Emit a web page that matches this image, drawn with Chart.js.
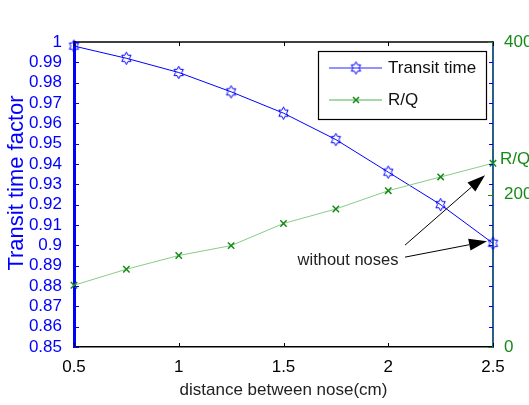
<!DOCTYPE html>
<html><head><meta charset="utf-8">
<script src="https://cdn.jsdelivr.net/npm/chart.js@4.4.1/dist/chart.umd.min.js"></script>
<style>html,body{margin:0;padding:0;background:#fff;overflow:hidden}#wrap{width:529px;height:405px;position:relative}</style>
</head><body><div id="wrap"><canvas id="c" width="529" height="405"></canvas></div>
<script>
// ---- data ----
const distances = [0.5, 0.75, 1, 1.25, 1.5, 1.75, 2, 2.25, 2.5];
const transitTime = [0.998, 0.992, 0.985, 0.9755, 0.965, 0.952, 0.936, 0.920, 0.901];
const rOverQ = [81, 102, 120, 133, 162, 181, 205, 223, 241];
const xTicks = [0.5, 1, 1.5, 2, 2.5];
const leftTicks = [0.85, 0.86, 0.87, 0.88, 0.89, 0.9, 0.91, 0.92, 0.93, 0.94, 0.95, 0.96, 0.97, 0.98, 0.99, 1];
const rightTicks = [0, 200, 400];
const seriesNames = ['Transit time', 'R/Q'];
const xTitle = 'distance between nose(cm)';
const yTitle = 'Transit time factor';
const noteText = 'without noses';
const noteAnchor = [1.808, 0.8928];       // data coords (x, left axis) of annotation text
const arrowStarts = [[2.08, 0.8942], [2.08, 0.9001]]; // data coords on left axis
const rqLabelValue = 246;                 // R/Q side label on right axis

const FONT = "'Liberation Sans', Arial, sans-serif";
const BLUE = '#0000ff', GREEN = '#168a16', LGREEN = '#88cc88', RAX = '#2e5f8a';

function hexagram(color) {
  const c = document.createElement('canvas'); c.width = 15; c.height = 15;
  const g = c.getContext('2d'); g.strokeStyle = color; g.lineWidth = 1;
  const R = 6.3, r = R / Math.sqrt(3);
  g.beginPath();
  for (let k = 0; k < 12; k++) {
    const a = (-90 + k * 30) * Math.PI / 180, rr = k % 2 ? r : R;
    const px = 7.5 + rr * Math.cos(a) * 0.85, py = 7.5 + rr * Math.sin(a);
    k ? g.lineTo(px, py) : g.moveTo(px, py);
  }
  g.closePath(); g.stroke();
  return c;
}
const star = hexagram(BLUE);

function arrow(ctx, x1, y1, x2, y2) {
  const ang = Math.atan2(y2 - y1, x2 - x1), L = 18, W = 6;
  const bx = x2 - L * Math.cos(ang), by = y2 - L * Math.sin(ang);
  ctx.strokeStyle = '#000'; ctx.fillStyle = '#000'; ctx.lineWidth = 1;
  ctx.beginPath(); ctx.moveTo(x1, y1); ctx.lineTo(bx, by); ctx.stroke();
  ctx.beginPath(); ctx.moveTo(x2, y2);
  ctx.lineTo(bx + W * Math.sin(ang), by - W * Math.cos(ang));
  ctx.lineTo(bx - W * Math.sin(ang), by + W * Math.cos(ang));
  ctx.closePath(); ctx.fill();
}

const deco = {
  id: 'deco',
  afterDraw(chart) {
    const ctx = chart.ctx, ca = chart.chartArea;
    const xs = chart.scales.x, ys = chart.scales.y, y1 = chart.scales.y1;
    ctx.save();
    // top border
    ctx.strokeStyle = '#000'; ctx.lineWidth = 1.5;
    ctx.beginPath(); ctx.moveTo(ca.left, ca.top); ctx.lineTo(ca.right, ca.top); ctx.stroke();
    // inward ticks
    ctx.lineWidth = 1;
    ctx.strokeStyle = BLUE;
    leftTicks.forEach(v => {
      const y = Math.round(ys.getPixelForValue(v)) + 0.5;
      ctx.beginPath(); ctx.moveTo(ca.left, y); ctx.lineTo(ca.left + 5, y);
      ctx.moveTo(ca.right, y); ctx.lineTo(ca.right - 4, y); ctx.stroke();
    });
    ctx.strokeStyle = GREEN;
    rightTicks.forEach(v => {
      const y = Math.round(y1.getPixelForValue(v)) + 0.5;
      ctx.beginPath(); ctx.moveTo(ca.right, y); ctx.lineTo(ca.right - 5, y); ctx.stroke();
    });
    ctx.strokeStyle = '#000';
    xTicks.forEach(v => {
      const x = Math.round(xs.getPixelForValue(v)) + 0.5;
      ctx.beginPath(); ctx.moveTo(x, ca.bottom); ctx.lineTo(x, ca.bottom - 4);
      ctx.moveTo(x, ca.top); ctx.lineTo(x, ca.top + 4); ctx.stroke();
    });
    // left title
    ctx.save();
    ctx.translate(17, 183); ctx.rotate(-Math.PI / 2);
    ctx.fillStyle = BLUE; ctx.font = '22px ' + FONT;
    ctx.textAlign = 'center'; ctx.textBaseline = 'middle';
    ctx.fillText(yTitle, 0, 0);
    ctx.restore();
    // R/Q side label
    ctx.fillStyle = GREEN; ctx.font = '17px ' + FONT;
    ctx.textAlign = 'left'; ctx.textBaseline = 'middle';
    ctx.fillText(seriesNames[1], ca.right + 7, y1.getPixelForValue(rqLabelValue));
    // legend
    const lx = ca.right - 175, ly = ca.top + 9, lw = 168, lh = 68;
    ctx.fillStyle = '#fff'; ctx.fillRect(lx, ly, lw, lh);
    ctx.strokeStyle = '#000'; ctx.lineWidth = 1.2; ctx.strokeRect(lx + 0.5, ly + 0.5, lw, lh);
    const rows = [ly + 17, ly + 49];
    ctx.lineWidth = 1.5;
    ctx.strokeStyle = '#6c6cff';
    ctx.beginPath(); ctx.moveTo(lx + 11, rows[0]); ctx.lineTo(lx + 64, rows[0]); ctx.stroke();
    ctx.drawImage(star, lx + 38 - 7.5, rows[0] - 7.5);
    ctx.strokeStyle = LGREEN;
    ctx.beginPath(); ctx.moveTo(lx + 11, rows[1]); ctx.lineTo(lx + 64, rows[1]); ctx.stroke();
    ctx.strokeStyle = GREEN; ctx.lineWidth = 1.5;
    const cx = lx + 38, cy = rows[1], d = 3;
    ctx.beginPath(); ctx.moveTo(cx - d, cy - d); ctx.lineTo(cx + d, cy + d);
    ctx.moveTo(cx + d, cy - d); ctx.lineTo(cx - d, cy + d); ctx.stroke();
    ctx.fillStyle = '#111'; ctx.font = '17px ' + FONT;
    ctx.fillText(seriesNames[0], lx + 70, rows[0]);
    ctx.fillText(seriesNames[1], lx + 70, rows[1]);
    // annotation
    ctx.fillStyle = '#222'; ctx.font = '16.5px ' + FONT; ctx.textAlign = 'center';
    ctx.fillText(noteText, xs.getPixelForValue(noteAnchor[0]), ys.getPixelForValue(noteAnchor[1]));
    const last = distances.length - 1;
    const p1x = xs.getPixelForValue(distances[last]), p1y = ys.getPixelForValue(transitTime[last]);
    const p2y = y1.getPixelForValue(rOverQ[last]);
    arrow(ctx, xs.getPixelForValue(arrowStarts[0][0]), ys.getPixelForValue(arrowStarts[0][1]), p1x - 6, p1y - 2);
    arrow(ctx, xs.getPixelForValue(arrowStarts[1][0]), ys.getPixelForValue(arrowStarts[1][1]), p1x - 8, p2y + 12);
    ctx.restore();
  }
};

new Chart(document.getElementById('c'), {
  type: 'line',
  data: {
    datasets: [
      {
        label: seriesNames[1], yAxisID: 'y1',
        data: distances.map((x, i) => ({ x, y: rOverQ[i] })),
        borderColor: LGREEN, borderWidth: 1, pointStyle: 'crossRot', pointRadius: 4.5,
        pointBorderColor: GREEN, pointBorderWidth: 1.5, tension: 0, clip: false
      },
      {
        label: seriesNames[0], yAxisID: 'y',
        data: distances.map((x, i) => ({ x, y: transitTime[i] })),
        borderColor: BLUE, borderWidth: 1, pointStyle: star, pointRadius: 6,
        tension: 0, clip: false
      }
    ]
  },
  options: {
    responsive: false, animation: false, devicePixelRatio: 1,
    layout: { padding: { top: 42, left: 0, right: 0, bottom: 0 } },
    plugins: { legend: { display: false }, tooltip: { enabled: false } },
    scales: {
      x: {
        type: 'linear', min: 0.5, max: 2.5,
        afterBuildTicks: s => { s.ticks = xTicks.map(v => ({ value: v })); },
        afterFit: s => { s.height = 58; },
        grid: { display: false },
        border: { color: '#000', width: 1.5 },
        ticks: { color: '#000', padding: 2, font: { family: FONT, size: 17 }, maxRotation: 0, autoSkip: false,
          callback: v => String(v) },
        title: { display: true, text: xTitle, color: '#222', font: { family: FONT, size: 17 },
          padding: { top: 0, bottom: 4 } }
      },
      y: {
        position: 'left', min: 0.85, max: 1,
        afterBuildTicks: s => { s.ticks = leftTicks.map(v => ({ value: v })); },
        afterFit: s => { s.width = 74; },
        grid: { display: false },
        border: { color: BLUE, width: 3 },
        ticks: { color: BLUE, padding: 4, autoSkip: false, font: { family: FONT, size: 17 },
          callback: v => String(parseFloat(v.toFixed(2))) }
      },
      y1: {
        position: 'right', min: 0, max: 400,
        afterBuildTicks: s => { s.ticks = rightTicks.map(v => ({ value: v })); },
        afterFit: s => { s.width = 36; },
        grid: { display: false },
        border: { color: RAX, width: 2 },
        ticks: { color: GREEN, padding: 3, autoSkip: false, font: { family: FONT, size: 17 } }
      }
    }
  },
  plugins: [deco]
});
</script></body></html>
